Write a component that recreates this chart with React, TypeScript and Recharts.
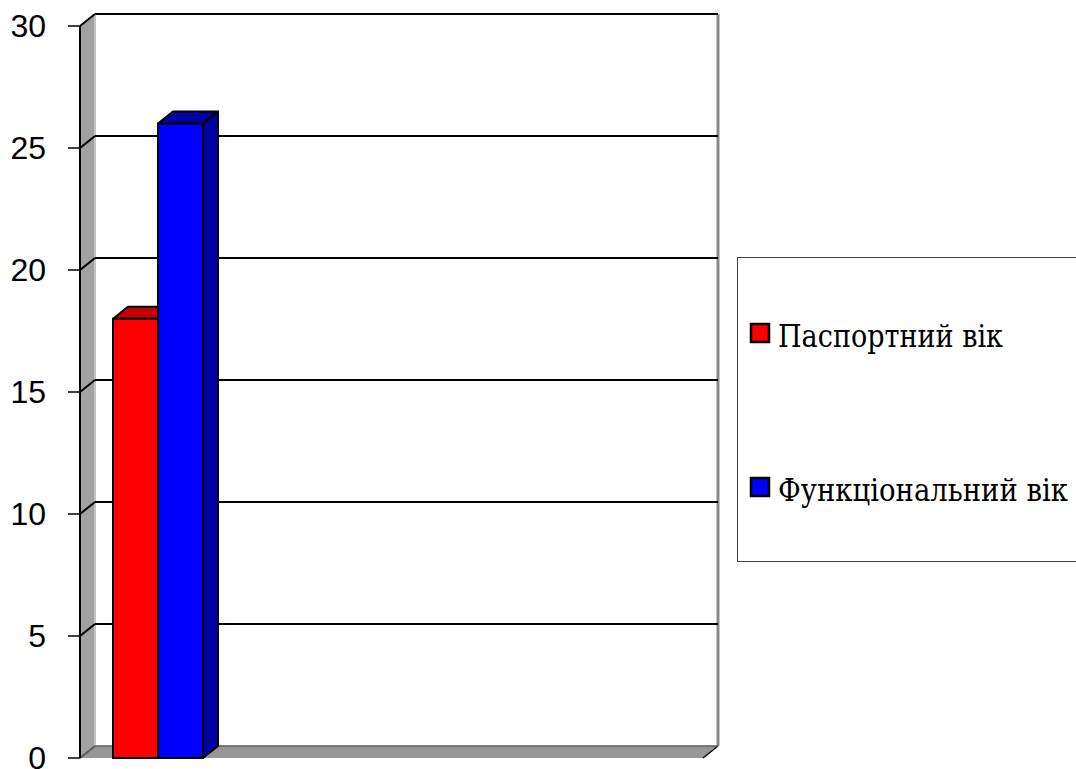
import React, { useLayoutEffect, useRef, useState } from "react";
import { BarChart, Bar, XAxis, YAxis, ReferenceArea, ReferenceLine, Legend } from "recharts";

const categories = ["1", "2", "3", "4"];
const passportAge: (number | null)[] = [18, null, null, null];
const functionalAge: (number | null)[] = [26, null, null, null];
const yTicks = [0, 5, 10, 15, 20, 25, 30];
const xBoundaryTicks = [0, 1, 2, 3, 4];
const seriesNames = ["Паспортний вік", "Функціональний вік"];

const data = categories.map((c, i) => ({
  name: c,
  passport: passportAge[i],
  functional: functionalAge[i],
}));

const DX = 15;
const DY = 12;
const SERIF = "DejaVu Serif";

const makeBar3D = (front: string, dark: string) => (props: any) => {
  const { x, y, width, height } = props;
  if (x == null || y == null || !width || !height || height <= 0) return null;
  const top = `${x},${y} ${x + DX},${y - DY} ${x + width + DX},${y - DY} ${x + width},${y}`;
  const side = `${x + width},${y} ${x + width + DX},${y - DY} ${x + width + DX},${y + height - DY} ${x + width},${y + height}`;
  return (
    <g>
      <polygon points={side} fill={dark} stroke="#000" strokeWidth={2} strokeLinejoin="round" />
      <polygon points={top} fill={dark} stroke="#000" strokeWidth={2} strokeLinejoin="round" />
      <rect x={x} y={y} width={width} height={height} fill={front} stroke="#000" strokeWidth={2} />
    </g>
  );
};

const Walls = (props: any) => {
  const { x, y, width, height } = props;
  if (x == null) return null;
  const b = y + height;
  const leftWall = `${x},${y} ${x + DX},${y - DY} ${x + DX},${b - DY} ${x},${b}`;
  const floor = `${x},${b} ${x + width},${b} ${x + width + DX},${b - DY} ${x + DX},${b - DY}`;
  return (
    <g>
      <polygon points={leftWall} fill="#a2a2a2" />
      <polygon points={floor} fill="#969696" />
      <line x1={x + DX} y1={y - DY} x2={x + DX} y2={b - DY} stroke="#c4c4c4" strokeWidth={2} />
      <line x1={x + width + DX} y1={y - DY} x2={x + width + DX} y2={b - DY} stroke="#8a8a8a" strokeWidth={3} />
      <line x1={x + width} y1={b} x2={x + width + DX} y2={b - DY} stroke="#000" strokeWidth={1.5} />
    </g>
  );
};

const gridShape = (v: number) => (props: any) => {
  const { x1, y1, x2 } = props;
  if (x1 == null || y1 == null) return null;
  const left = Math.min(x1, x2);
  const right = Math.max(x1, x2);
  const color = v === 0 ? "#5a5a5a" : "#000";
  return (
    <g>
      <line x1={left} y1={y1} x2={left + DX} y2={y1 - DY} stroke={color} strokeWidth={2} />
      <line x1={left + DX} y1={y1 - DY} x2={right + DX} y2={y1 - DY} stroke={color} strokeWidth={v === 0 ? 1.5 : 2} />
    </g>
  );
};

const squareTops = [66, 220];
const baselines = [90, 244];
const textWidths = [225, 290];

const LegendBox = (props: any) => {
  const payload = props.payload || [];
  const refs = useRef<(SVGTextElement | null)[]>([]);
  const [scales, setScales] = useState<number[]>([0.85, 0.86]);
  useLayoutEffect(() => {
    const next = seriesNames.map((_, i) => {
      const el = refs.current[i];
      if (!el) return scales[i];
      const len = el.getComputedTextLength();
      return len > 0 ? textWidths[i] / len : scales[i];
    });
    if (next.some((s, i) => Math.abs(s - scales[i]) > 0.001)) setScales(next);
  });
  return (
    <div
      style={{
        position: "relative",
        width: 360,
        height: 305,
        border: "1.5px solid #404040",
        boxSizing: "border-box",
        background: "#fff",
      }}
    >
      <svg width={360} height={305} style={{ position: "absolute", left: -1.5, top: -1.5 }}>
        {seriesNames.map((name, i) => {
          const entry = payload.find((p: any) => p.value === name);
          const color = entry ? entry.color : i === 0 ? "#ff0000" : "#0000ff";
          return (
            <g key={name}>
              <rect x={14} y={squareTops[i] + 1} width={18} height={18} fill={color} stroke="#000" strokeWidth={2.5} />
              <text
                ref={(el) => {
                  refs.current[i] = el;
                }}
                x={0}
                y={0}
                transform={`translate(41, ${baselines[i]}) scale(${scales[i]}, 1)`}
                style={{ fontFamily: SERIF, fontSize: 32 }}
                fill="#000"
              >
                {name}
              </text>
            </g>
          );
        })}
      </svg>
    </div>
  );
};

export default function App() {
  return (
    <div style={{ width: 1076, height: 769, overflow: "hidden", position: "relative", background: "#fff" }}>
      <style>{"body{margin:0;overflow:hidden;background:#fff}"}</style>
      <BarChart
        width={1076}
        height={769}
        data={data}
        margin={{ top: 26, right: 373, left: 0, bottom: 0 }}
        barGap={0}
        barSize={45}
      >
        <ReferenceArea y1={0} y2={30} shape={(p: any) => <Walls {...p} />} ifOverflow="visible" zIndex={-20} />
        {yTicks.map((v) => (
          <ReferenceLine key={v} y={v} shape={gridShape(v)} ifOverflow="visible" zIndex={-10} />
        ))}
        <Bar
          dataKey="passport"
          name={seriesNames[0]}
          fill="#ff0000"
          shape={makeBar3D("#ff0000", "#c40000")}
          isAnimationActive={false}
        />
        <Bar
          dataKey="functional"
          name={seriesNames[1]}
          fill="#0000ff"
          shape={makeBar3D("#0000ff", "#0000a4")}
          isAnimationActive={false}
        />
        <XAxis dataKey="name" xAxisId={0} hide />
        <XAxis
          xAxisId="frame"
          type="number"
          domain={[0, 4]}
          ticks={xBoundaryTicks}
          allowDataOverflow
          height={11}
          tickSize={10}
          tickFormatter={() => ""}
          axisLine={{ stroke: "#000", strokeWidth: 2 }}
          tickLine={{ stroke: "#000", strokeWidth: 1.5 }}
        />
        <YAxis
          domain={[0, 30]}
          ticks={yTicks}
          width={80}
          tickSize={12}
          tickMargin={22}
          axisLine={{ stroke: "#000", strokeWidth: 2 }}
          tickLine={{ stroke: "#000", strokeWidth: 1.5 }}
          tick={{ fill: "#000", fontSize: 32, fontFamily: "Liberation Sans, Arial, sans-serif" }}
          interval={0}
        />
        <Legend
          layout="vertical"
          align="center"
          verticalAlign="middle"
          content={(p: any) => <LegendBox {...p} />}
          wrapperStyle={{ left: 737, top: 257, width: 360, height: 305 }}
        />
      </BarChart>
    </div>
  );
}
